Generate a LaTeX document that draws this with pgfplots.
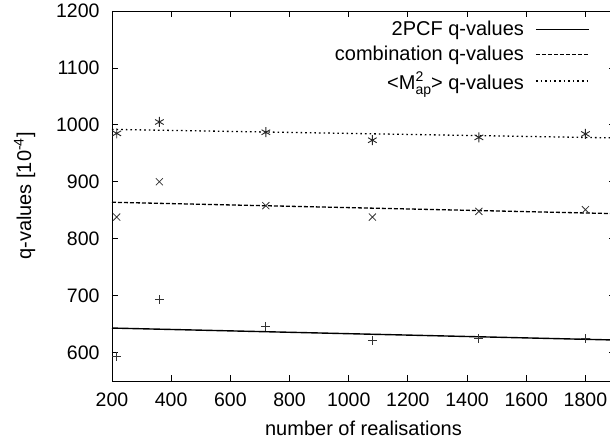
\documentclass[border=0pt]{standalone}
\usepackage{fontspec}
\setmainfont{Liberation Sans}
\usepackage{pgfplots}
\pgfplotsset{compat=1.18}

\begin{document}
\begin{tikzpicture}
\begin{axis}[
  scale only axis,
  width=503pt, height=370pt,
  xmin=200, xmax=1900,
  ymin=550, ymax=1200,
  xtick={200,400,...,1800},
  ytick={600,700,...,1200},
  tick align=inside,
  major tick length=6pt,
  axis line style={line width=0.9pt},
  every tick/.style={black, line width=0.8pt},
  /pgf/number format/assume math mode=true,
  /pgf/number format/1000 sep={},
  tick label style={font=\fontsize{19.5}{22}\selectfont},
  xticklabel style={yshift=-8pt},
  yticklabel style={xshift=-9pt},
  label style={font=\fontsize{20}{24}\selectfont},
  xlabel={number of realisations},
  ylabel={q-values [10\textsuperscript{-4}]},
  xlabel style={yshift=-8pt},
  ylabel style={yshift=14pt},
  legend plot pos=right,
  legend cell align=right,
  legend style={at={(0.95,0.978)}, anchor=north east, draw=none, fill=none,
    font=\fontsize{20}{24}\selectfont, row sep=5pt, inner sep=0pt},
  legend image code/.code={\draw[draw=none] (0pt,0pt) -- (10pt,0pt);
    \draw[#1] (10pt,0pt) -- (63pt,0pt);},
]
% fit lines
\addplot[black, line width=1.4pt] coordinates {(200,643) (1900,622)};
\addlegendentry{2PCF q-values}
\addplot[black, line width=1.3pt, dash pattern=on 4pt off 2pt] coordinates {(200,864) (1900,844)};
\addlegendentry{combination q-values}
\addplot[black, line width=1.3pt, dash pattern=on 1.6pt off 3pt] coordinates {(200,992) (1900,977)};
\addlegendentry{<M\rlap{\raisebox{0.75ex}{\fontsize{14}{14}\selectfont 2}}\raisebox{-0.55ex}{\fontsize{14}{14}\selectfont ap}> q-values}
% measured points
\addplot[only marks, mark=+, mark size=4.5pt, black!80, line width=0.8pt, forget plot]
  coordinates {(216,593) (360,693) (720,646) (1080,622) (1440,624) (1800,624)};
\addplot[only marks, mark=x, mark size=5pt, black!80, line width=0.8pt, forget plot]
  coordinates {(216,838) (360,900) (720,858) (1080,838) (1440,848) (1800,851)};
\addplot[only marks, mark=asterisk, mark size=5pt, black!85, line width=0.9pt, forget plot]
  coordinates {(216,985) (360,1005) (720,987) (1080,973) (1440,978) (1800,984)};
\end{axis}
\pgfresetboundingbox
\path (current axis.south west) ++(-112pt,-63pt) rectangle ++(610pt,444pt);
\end{tikzpicture}
\end{document}
